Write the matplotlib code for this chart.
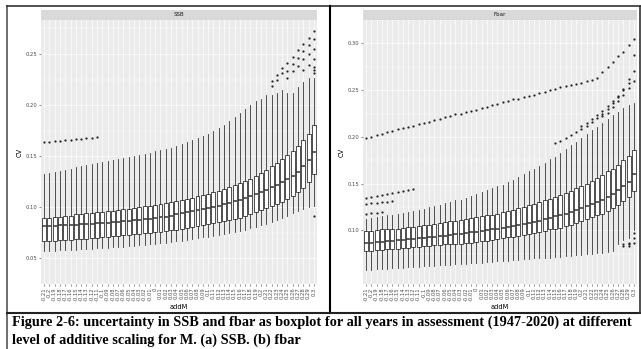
import numpy as np
import matplotlib.pyplot as plt

addM = ["-0.21", "-0.2", "-0.19", "-0.18", "-0.17", "-0.16", "-0.15", "-0.14", "-0.13",
        "-0.12", "-0.11", "-0.1", "-0.09", "-0.08", "-0.07", "-0.06", "-0.05", "-0.04",
        "-0.03", "-0.02", "-0.01", "0", "0.01", "0.02", "0.03", "0.04", "0.05", "0.06",
        "0.07", "0.08", "0.09", "0.1", "0.11", "0.12", "0.13", "0.14", "0.15", "0.16",
        "0.17", "0.18", "0.19", "0.2", "0.21", "0.22", "0.23", "0.24", "0.25", "0.26",
        "0.27", "0.28", "0.29", "0.3"]

# SSB panel, box stats per addM level
ssb_med = [0.082, 0.082, 0.082, 0.083, 0.083, 0.083, 0.083, 0.084, 0.084, 0.084, 0.085,
           0.085, 0.085, 0.086, 0.086, 0.087, 0.087, 0.088, 0.088, 0.089, 0.089,
           0.090, 0.091, 0.091, 0.092, 0.093, 0.094, 0.095, 0.096, 0.097, 0.098,
           0.099, 0.100, 0.101, 0.103, 0.104, 0.106, 0.107, 0.109, 0.111, 0.113,
           0.115, 0.117, 0.120, 0.122, 0.125, 0.128, 0.131, 0.135, 0.140, 0.146, 0.154]
ssb_q1 = [0.067, 0.067, 0.067, 0.068, 0.068, 0.068, 0.069, 0.069, 0.069, 0.070, 0.070,
          0.071, 0.071, 0.072, 0.072, 0.073, 0.073, 0.074, 0.074, 0.075, 0.075,
          0.076, 0.076, 0.077, 0.078, 0.078, 0.079, 0.080, 0.081, 0.082, 0.083,
          0.084, 0.085, 0.086, 0.087, 0.088, 0.089, 0.090, 0.092, 0.093, 0.095,
          0.097, 0.099, 0.101, 0.103, 0.105, 0.108, 0.111, 0.115, 0.119, 0.125, 0.133]
ssb_q3 = [0.090, 0.090, 0.091, 0.091, 0.092, 0.092, 0.093, 0.093, 0.094, 0.094, 0.095,
          0.095, 0.096, 0.096, 0.097, 0.098, 0.098, 0.099, 0.100, 0.101, 0.101,
          0.102, 0.103, 0.104, 0.105, 0.106, 0.107, 0.108, 0.109, 0.111, 0.112,
          0.113, 0.115, 0.116, 0.118, 0.120, 0.122, 0.124, 0.126, 0.128, 0.131,
          0.134, 0.137, 0.140, 0.143, 0.147, 0.151, 0.155, 0.160, 0.166, 0.172, 0.181]
ssb_lo = [0.057, 0.057, 0.057, 0.058, 0.058, 0.058, 0.058, 0.059, 0.059, 0.059, 0.060,
          0.060, 0.060, 0.061, 0.061, 0.061, 0.062, 0.062, 0.063, 0.063, 0.064,
          0.064, 0.065, 0.065, 0.066, 0.067, 0.067, 0.068, 0.069, 0.070, 0.071,
          0.071, 0.072, 0.073, 0.074, 0.075, 0.076, 0.077, 0.078, 0.080, 0.081,
          0.083, 0.084, 0.086, 0.088, 0.090, 0.092, 0.094, 0.096, 0.098, 0.100, 0.101]
ssb_hi = [0.133, 0.134, 0.135, 0.136, 0.137, 0.138, 0.139, 0.140, 0.141, 0.142, 0.143,
          0.144, 0.145, 0.146, 0.147, 0.148, 0.149, 0.150, 0.151, 0.152, 0.153,
          0.155, 0.156, 0.157, 0.158, 0.160, 0.162, 0.164, 0.166, 0.168, 0.170,
          0.172, 0.175, 0.178, 0.181, 0.184, 0.188, 0.192, 0.196, 0.200, 0.204,
          0.206, 0.210, 0.210, 0.212, 0.215, 0.212, 0.212, 0.218, 0.223, 0.227, 0.227]
# SSB outliers: (addM index, CV)
ssb_out_i = [0, 1, 2, 3, 4, 5, 6, 7, 8, 9, 10,
             43, 43, 44, 44, 45, 45, 46, 46, 46, 47, 47, 47, 48, 48, 48,
             49, 49, 49, 49, 50, 50, 50, 50, 51, 51, 51, 51, 51, 51, 51, 51]
ssb_out_v = [0.164, 0.164, 0.165, 0.165, 0.166, 0.166, 0.167, 0.167, 0.168, 0.168, 0.169,
             0.219, 0.224, 0.225, 0.229, 0.231, 0.236, 0.227, 0.233, 0.241, 0.233, 0.240,
             0.247, 0.238, 0.246, 0.254, 0.234, 0.245, 0.253, 0.260, 0.239, 0.250, 0.259,
             0.266, 0.231, 0.234, 0.237, 0.245, 0.255, 0.265, 0.273, 0.092]

# Fbar panel
fbar_med = [0.087, 0.087, 0.088, 0.088, 0.089, 0.089, 0.090, 0.090, 0.091, 0.091, 0.092,
            0.092, 0.093, 0.093, 0.094, 0.094, 0.095, 0.096, 0.096, 0.097, 0.098,
            0.098, 0.099, 0.100, 0.101, 0.102, 0.103, 0.104, 0.105, 0.106, 0.107,
            0.108, 0.109, 0.110, 0.112, 0.113, 0.115, 0.116, 0.118, 0.120, 0.122,
            0.124, 0.126, 0.128, 0.130, 0.133, 0.136, 0.139, 0.143, 0.147, 0.152, 0.160]
fbar_q1 = [0.078, 0.078, 0.079, 0.079, 0.080, 0.080, 0.080, 0.081, 0.081, 0.082, 0.082,
           0.083, 0.083, 0.084, 0.084, 0.085, 0.085, 0.086, 0.086, 0.087, 0.087,
           0.088, 0.089, 0.089, 0.090, 0.091, 0.092, 0.093, 0.093, 0.094, 0.095,
           0.096, 0.097, 0.098, 0.099, 0.101, 0.102, 0.103, 0.105, 0.106, 0.108,
           0.110, 0.112, 0.114, 0.116, 0.118, 0.121, 0.124, 0.127, 0.131, 0.136, 0.142]
fbar_q3 = [0.099, 0.099, 0.100, 0.101, 0.101, 0.102, 0.102, 0.103, 0.104, 0.104, 0.105,
           0.106, 0.106, 0.107, 0.108, 0.109, 0.110, 0.110, 0.111, 0.112, 0.113,
           0.114, 0.115, 0.116, 0.117, 0.118, 0.120, 0.121, 0.122, 0.124, 0.125,
           0.127, 0.128, 0.130, 0.132, 0.134, 0.136, 0.138, 0.140, 0.142, 0.145,
           0.147, 0.150, 0.153, 0.156, 0.159, 0.163, 0.166, 0.170, 0.175, 0.180, 0.186]
fbar_lo = [0.058, 0.058, 0.059, 0.059, 0.059, 0.060, 0.060, 0.060, 0.061, 0.061,
           0.061, 0.062, 0.062, 0.062, 0.063, 0.063, 0.063, 0.064, 0.064, 0.064,
           0.065, 0.065, 0.065, 0.066, 0.066, 0.067, 0.067, 0.067, 0.068, 0.068,
           0.069, 0.069, 0.070, 0.070, 0.071, 0.071, 0.072, 0.072, 0.073, 0.073,
           0.074, 0.074, 0.075, 0.075, 0.076, 0.076, 0.077, 0.078, 0.086, 0.090,
           0.092, 0.100]
fbar_hi = [0.112, 0.113, 0.114, 0.115, 0.116, 0.117, 0.118, 0.119, 0.120, 0.121, 0.122,
           0.123, 0.125, 0.126, 0.127, 0.129, 0.130, 0.132, 0.133, 0.135, 0.137,
           0.139, 0.141, 0.143, 0.145, 0.147, 0.149, 0.152, 0.154, 0.157, 0.160,
           0.163, 0.166, 0.169, 0.172, 0.176, 0.179, 0.183, 0.187, 0.191, 0.195,
           0.199, 0.203, 0.207, 0.211, 0.215, 0.219, 0.223, 0.227, 0.231, 0.234, 0.236]
fbar_out_i = [0, 1, 2, 3, 4, 5, 6, 7, 8, 9, 10, 11, 12, 13, 14, 15, 16, 17, 18, 19, 20,
              21, 22, 23, 24, 25, 26, 27, 28, 29, 30, 31, 32, 33, 34, 35, 36, 37, 38, 39,
              40, 41, 42, 43, 44, 45, 46, 47, 48, 49, 50, 51,
              0, 1, 2, 3, 4, 5, 6, 7, 8, 9,
              0, 1, 2, 3, 4, 5,
              0, 1, 2, 3,
              36, 37, 38, 39, 40, 41, 42, 43, 44, 45, 46, 47, 48, 49, 50, 51,
              41, 42, 43, 44, 45, 46, 47, 48, 49, 50, 51,
              45, 46, 47, 48, 49, 50, 51,
              49, 49, 50, 50, 50, 51, 51, 51]
fbar_out_v = [0.199, 0.200, 0.202, 0.203, 0.205, 0.206, 0.208, 0.209, 0.211, 0.212, 0.214,
              0.215, 0.216, 0.218, 0.219, 0.221, 0.222, 0.224, 0.225, 0.227, 0.228,
              0.229, 0.231, 0.232, 0.234, 0.235, 0.237, 0.238, 0.240, 0.241, 0.243,
              0.244, 0.245, 0.247, 0.248, 0.250, 0.251, 0.253, 0.254, 0.256, 0.257,
              0.258, 0.260, 0.261, 0.263, 0.269, 0.275, 0.280, 0.286, 0.291, 0.298, 0.305,
              0.135, 0.136, 0.137, 0.138, 0.139, 0.140, 0.141, 0.142, 0.143, 0.144,
              0.128, 0.129, 0.129, 0.130, 0.130, 0.131,
              0.118, 0.119, 0.119, 0.120,
              0.193, 0.196, 0.199, 0.202, 0.205, 0.208, 0.212, 0.216, 0.220, 0.225,
              0.230, 0.236, 0.243, 0.251, 0.262, 0.288,
              0.212, 0.215, 0.219, 0.223, 0.228, 0.233, 0.238, 0.244, 0.250, 0.258, 0.270,
              0.222, 0.226, 0.232, 0.238, 0.245, 0.252, 0.260,
              0.083, 0.085, 0.083, 0.085, 0.087, 0.087, 0.092, 0.097]


def draw_panel(fig, rect, strip_rect, name, med, q1, q3, lo, hi, out_i, out_v,
               ylim, yticks, ylabels):
    ax = fig.add_axes(rect)
    ax.set_facecolor('#EBEBEB')
    stats = []
    for k in range(len(addM)):
        fl = [v for i, v in zip(out_i, out_v) if i == k]
        stats.append(dict(med=med[k], q1=q1[k], q3=q3[k], whislo=lo[k], whishi=hi[k],
                          fliers=fl))
    lc = '#333333'
    ax.bxp(stats, positions=range(len(addM)), widths=0.75, patch_artist=True,
           showcaps=False,
           boxprops=dict(facecolor='white', edgecolor=lc, linewidth=0.6),
           whiskerprops=dict(color=lc, linewidth=0.6),
           medianprops=dict(color=lc, linewidth=1.1),
           flierprops=dict(marker='o', markersize=1.6, markerfacecolor='#222222',
                           markeredgecolor='none'),
           zorder=3)
    ax.set_xlim(-0.6, len(addM) - 0.4)
    ax.set_ylim(*ylim)
    ax.set_yticks(yticks)
    ax.set_yticklabels(ylabels)
    step = yticks[1] - yticks[0]
    minor = [yticks[0] - step / 2] + [t + step / 2 for t in yticks]
    ax.set_yticks(minor, minor=True)
    ax.set_xticks(range(len(addM)))
    ax.set_xticklabels(addM, rotation=90, fontsize=3.6, color='#4D4D4D')
    ax.grid(True, which='major', color='white', linewidth=0.5, zorder=0)
    ax.grid(True, which='minor', axis='y', color='white', linewidth=0.25, zorder=0)
    ax.set_axisbelow(True)
    ax.tick_params(which='major', length=1.5, width=0.4, color='#333333',
                   labelsize=3.8, labelcolor='#4D4D4D', pad=1)
    ax.tick_params(which='minor', length=0)
    for s in ax.spines.values():
        s.set_visible(False)
    ax.set_xlabel('addM', fontsize=4.8, labelpad=2)
    ax.set_ylabel('CV', fontsize=4.8, labelpad=2)

    st = fig.add_axes(strip_rect)
    st.set_facecolor('#D9D9D9')
    st.set_xticks([])
    st.set_yticks([])
    for s in st.spines.values():
        s.set_visible(False)
    st.text(0.5, 0.5, name, ha='center', va='center', fontsize=4.0, color='#1A1A1A',
            transform=st.transAxes)
    return ax


W, H = 641, 349
fig = plt.figure(figsize=(W / 100, H / 100), dpi=100)


def frac(x0, y0, x1, y1):
    return [x0 / W, 1 - y1 / H, (x1 - x0) / W, (y1 - y0) / H]


draw_panel(fig, frac(41, 20, 317, 284), frac(41, 10, 317, 20), 'SSB',
           ssb_med, ssb_q1, ssb_q3, ssb_lo, ssb_hi, ssb_out_i, ssb_out_v,
           (0.0455, 0.2833), [0.05, 0.10, 0.15, 0.20, 0.25],
           ['0.05', '0.10', '0.15', '0.20', '0.25'])
draw_panel(fig, frac(363, 20, 637, 284), frac(363, 10, 637, 20), 'Fbar',
           fbar_med, fbar_q1, fbar_q3, fbar_lo, fbar_hi, fbar_out_i, fbar_out_v,
           (0.0427, 0.3177), [0.10, 0.15, 0.20, 0.25, 0.30],
           ['0.10', '0.15', '0.20', '0.25', '0.30'])

# document frame around the two images
lines = [((7, 7), (6, 349), '#555555', 1.2),
         ((7, 641), (6, 6), '#333333', 1.2),
         ((330, 330), (6, 313), '#000000', 1.5),
         ((7, 641), (313, 313), '#222222', 1.5),
         ((640, 640), (6, 313), '#333333', 1.2)]
for xs, ys, c, lw in lines:
    fig.add_artist(plt.Line2D([x / W for x in xs], [1 - y / H for y in ys],
                              color=c, linewidth=lw))

cap1 = ("Figure 2-6: uncertainty in SSB and fbar as boxplot for all years in assessment "
        "(1947-2020) at different")
cap2 = "level of additive scaling for M. (a) SSB. (b) fbar"
fig.text(12 / W, 1 - 322 / H, cap1, family='Liberation Serif', weight='bold',
         fontsize=10.3, va='center', ha='left')
fig.text(12 / W, 1 - 340 / H, cap2, family='Liberation Serif', weight='bold',
         fontsize=10.3, va='center', ha='left')

fig.savefig('out.png', dpi=100)
